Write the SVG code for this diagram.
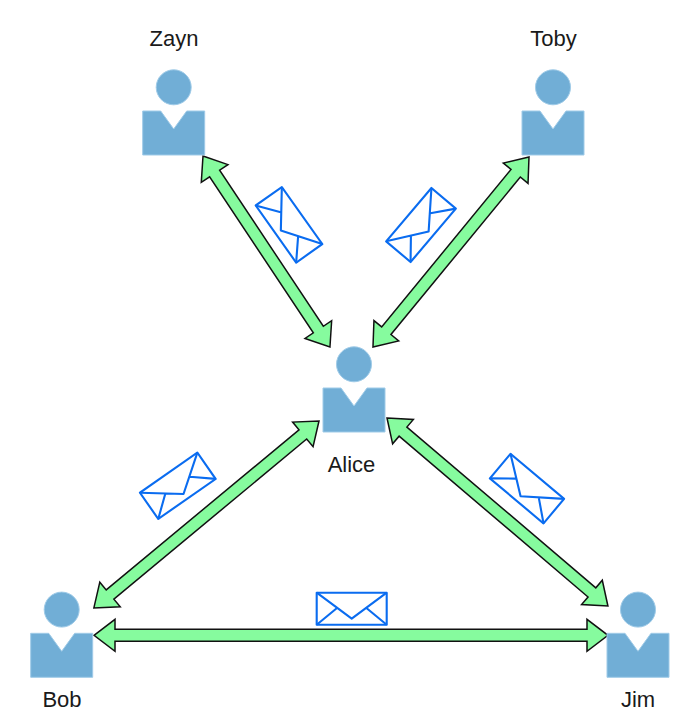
<svg xmlns="http://www.w3.org/2000/svg" width="700" height="728" viewBox="0 0 700 728">
<style>
.p{fill:#71aed6;stroke:#9fcbe8;stroke-width:1}
.a{fill:#86fb9e;stroke:#111;stroke-width:1.5;stroke-linejoin:miter}
.e{fill:#fff;stroke:#0a6cf0;stroke-width:2.1;stroke-linejoin:round}
.t{font-family:"Liberation Sans",Arial,sans-serif;font-size:22px;fill:#1a1a1a;text-anchor:middle}
</style>
<defs>
<g id="person">
<circle class="p" cx="0" cy="-23.7" r="17.5"/>
<path class="p" d="M-31 0H-13L0 18 13 0H31V44H-31Z"/>
</g>
<g id="env">
<rect class="e" x="-35" y="-16" width="70" height="32"/>
<path class="e" style="fill:none" d="M-35-16 0 10 35-16M-35 16-15 -0.5M35 16 15 -0.5"/>
</g>
</defs>
<rect width="700" height="728" fill="#fff"/>
<g id="connectors">
<polygon class="a" transform="translate(203,156) rotate(56.4)" points="0,0 21,-16 21,-6 208.4,-6 208.4,-16 229.4,0 208.4,16 208.4,6 21,6 21,16"/>
<polygon class="a" transform="translate(529,157) rotate(129.4)" points="0,0 21,-16 21,-6 224.8,-6 224.8,-16 245.8,0 224.8,16 224.8,6 21,6 21,16"/>
<polygon class="a" transform="translate(319,421) rotate(140.3)" points="0,0 21,-16 21,-6 271.6,-6 271.6,-16 292.6,0 271.6,16 271.6,6 21,6 21,16"/>
<polygon class="a" transform="translate(387,418) rotate(40.4)" points="0,0 21,-16 21,-6 269.1,-6 269.1,-16 290.1,0 269.1,16 269.1,6 21,6 21,16"/>
<polygon class="a" transform="translate(94,635.3)" points="0,0 21,-16 21,-6 493,-6 493,-16 514,0 493,16 493,6 21,6 21,16"/>
</g>
<g id="messages">
<use href="#env" transform="translate(289,224.8) rotate(54.7)"/>
<use href="#env" transform="translate(421,225) rotate(-49.7)"/>
<use href="#env" transform="translate(177.8,485.8) rotate(-34.9)"/>
<use href="#env" transform="translate(527,488.6) rotate(40)"/>
<use href="#env" transform="translate(351.7,608.7)"/>
</g>
<g id="zayn"><use href="#person" x="173.7" y="111"/><text class="t" x="174" y="46">Zayn</text></g>
<g id="toby"><use href="#person" x="553" y="111"/><text class="t" x="553.5" y="46">Toby</text></g>
<g id="alice"><use href="#person" x="354" y="388"/><text class="t" x="351.5" y="472">Alice</text></g>
<g id="bob"><use href="#person" x="61.7" y="633.3"/><text class="t" x="62" y="707">Bob</text></g>
<g id="jim"><use href="#person" x="638" y="633.3"/><text class="t" x="638" y="707">Jim</text></g>
</svg>
